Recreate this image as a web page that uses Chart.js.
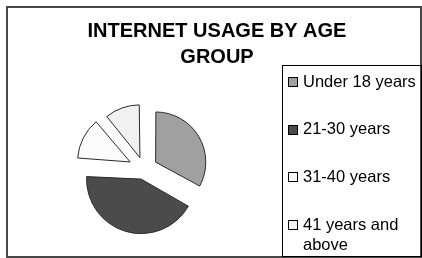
<!DOCTYPE html>
<html>
<head>
<meta charset="utf-8">
<script src="https://cdn.jsdelivr.net/npm/chart.js@4/dist/chart.umd.min.js"></script>
<style>
  html, body { margin: 0; padding: 0; background: #fff; }
  #wrap { width: 422px; height: 258px; position: relative; }
</style>
</head>
<body>
<div id="wrap"><canvas id="myChart" width="422" height="258"></canvas></div>
<script>
    // chart data
    const TITLE_LINES = ['INTERNET USAGE BY AGE', 'GROUP']
    const categories = ['Under 18 years', '21-30 years', '31-40 years', '41 years and above']
    // legend text, wrapped like the original
    const legend_lines = [['Under 18 years'], ['21-30 years'], ['31-40 years'], ['41 years and', 'above']]
    const usage = [33, 43, 13, 11]
    const slice_colors = ['#a0a0a0', '#4b4b4b', '#fbfbfb', '#f1f1f1']

    // frame, title and the boxed legend on the right
    const decorPlugin = {
      id: 'decor',
      afterDraw(chart) {
        var ctx = chart.ctx
        ctx.save()
        // outer frame
        ctx.strokeStyle = '#474747'
        ctx.lineWidth = 2
        ctx.strokeRect(7, 7, 414, 250)

        // title
        ctx.fillStyle = '#000'
        ctx.font = 'bold 20px "Liberation Sans", Arial, sans-serif'
        ctx.textAlign = 'center'
        ctx.textBaseline = 'middle'
        TITLE_LINES.forEach(function (line, i) {
          ctx.fillText(line, 217, 31 + i * 26)
        })

        // legend box
        ctx.strokeStyle = '#000'
        ctx.lineWidth = 1
        ctx.strokeRect(282.5, 65.5, 139, 191)

        ctx.font = '16.5px "Liberation Sans", Arial, sans-serif'
        ctx.textAlign = 'left'
        var colors = chart.data.datasets[0].backgroundColor
        legend_lines.forEach(function (lines, i) {
          var y = 82 + i * 47.7
          ctx.fillStyle = colors[i]
          ctx.fillRect(288.5, Math.round(y) - 4.5, 9, 9)
          ctx.strokeStyle = '#000'
          ctx.strokeRect(288.5, Math.round(y) - 4.5, 9, 9)
          ctx.fillStyle = '#000'
          lines.forEach(function (txt, j) {
            ctx.fillText(txt, 303, y + j * 20)
          })
        })
        ctx.restore()
      }
    }

    var ctx = document.getElementById('myChart').getContext('2d');
    var chart = new Chart(ctx, {
      type: 'pie',
      data: {
        labels: categories,
        datasets: [{
          data: usage,
          backgroundColor: slice_colors,
          borderColor: '#2a2a2a',
          borderWidth: 1,
          // exploded slices (chart.js moves each arc by offset/4)
          offset: [54, 42, 62, 48],
          radius: 48.5
        }]
      },
      options: {
        responsive: false,
        animation: false,
        layout: { padding: { left: 79, right: 213, top: 104, bottom: 24 } },
        plugins: {
          legend: { display: false },
          title: { display: false },
          tooltip: { enabled: false }
        }
      },
      plugins: [decorPlugin]
    });
</script>
</body>
</html>
